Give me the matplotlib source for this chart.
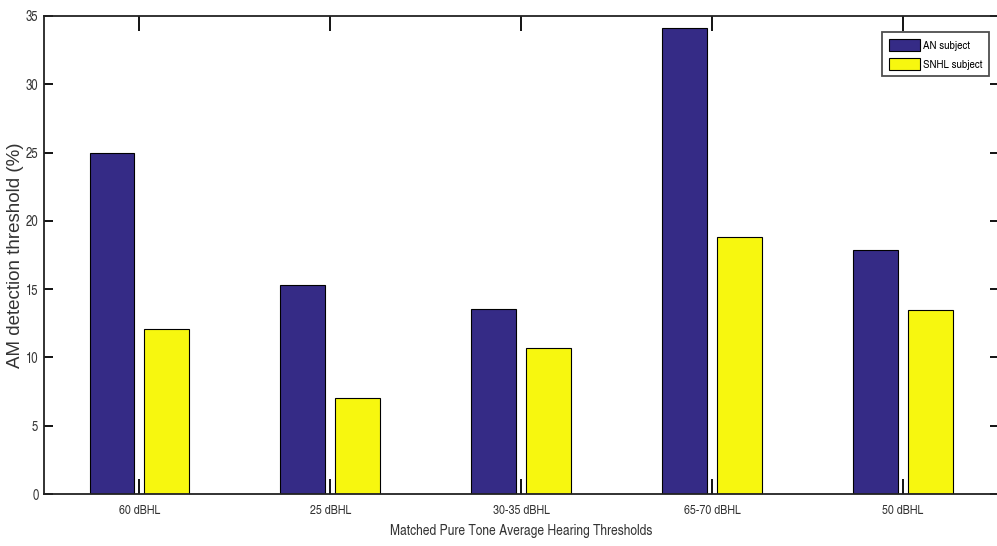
import matplotlib
matplotlib.use("Agg")
import matplotlib.pyplot as plt
import numpy as np

categories = ["60 dBHL", "25 dBHL", "30-35 dBHL", "65-70 dBHL", "50 dBHL"]
an_values = [25.0, 15.3, 13.55, 34.1, 17.9]
snhl_values = [12.1, 7.05, 10.7, 18.85, 13.47]
series_names = ["AN subject", "SNHL subject"]
yticks = [0, 5, 10, 15, 20, 25, 30, 35]

plt.rcParams['font.family'] = ['TeX Gyre Heros Cn', 'Roboto Condensed', 'DejaVu Sans']

fig = plt.figure(figsize=(9.97, 5.46), dpi=100)
ax = fig.add_axes([0.0441, 0.0952, 0.9575, 0.8755])

x = np.arange(1, len(categories) + 1)
w = 0.235
off = 0.144
ax.bar(x - off, an_values, width=w, color="#352b86", edgecolor="black", linewidth=0.8, label=series_names[0])
ax.bar(x + off, snhl_values, width=w, color="#f7f70f", edgecolor="black", linewidth=0.8, label=series_names[1])

ax.set_xlim(0.5, 5.5)
ax.set_ylim(0, 35)
ax.set_xticks(x)
ax.set_xticklabels(categories, fontsize=9.4, color="#333333")
ax.set_yticks(yticks)
ax.set_yticklabels([str(v) for v in yticks], fontsize=10, color="#333333")
ax.tick_params(axis='x', direction='in', length=11, width=1.3, top=True, bottom=True, pad=8)
ax.tick_params(axis='y', direction='in', length=6.5, width=1.3, left=True, right=True, pad=4)
for s in ax.spines.values():
    s.set_linewidth(1.3)
    s.set_color("#222222")

ax.set_xlabel("Matched Pure Tone Average Hearing Thresholds", fontsize=10.6, color="#333333", labelpad=5)
ax.set_ylabel("AM detection threshold (%)", fontsize=13.5, color="#333333",
              family=['Liberation Sans', 'DejaVu Sans'])
ax.yaxis.set_label_coords(-0.021, 0.5)

leg = ax.legend(loc="upper right", bbox_to_anchor=(0.990, 0.9665), fontsize=8.5, frameon=True,
                fancybox=False, edgecolor="#222222", handlelength=2.6, handleheight=1.2,
                borderpad=0.55, labelspacing=0.6, handletextpad=0.3, borderaxespad=0)
leg.get_frame().set_linewidth(1.3)

fig.savefig("out.png", dpi=100)
